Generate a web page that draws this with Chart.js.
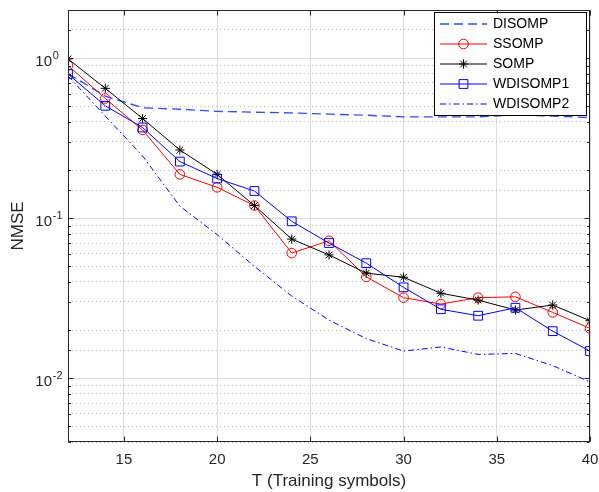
<!DOCTYPE html>
<html>
<head>
<meta charset="utf-8">
<script src="https://cdn.jsdelivr.net/npm/chart.js@4.4.1/dist/chart.umd.min.js"></script>
<style>
  html, body { margin: 0; padding: 0; background: #fff; }
  #wrap { width: 599px; height: 492px; }
</style>
</head>
<body>
<div id="wrap"><canvas id="nmseChart" width="599" height="492"></canvas></div>
<script>
// data
const trainingSymbols = [12, 14, 16, 18, 20, 22, 24, 26, 28, 30, 32, 34, 36, 38, 40];
const disomp   = [0.80, 0.58, 0.49, 0.48, 0.465, 0.46, 0.455, 0.447, 0.44, 0.43, 0.43, 0.43, 0.443, 0.435, 0.425];
const ssomp    = [0.90, 0.56, 0.356, 0.188, 0.156, 0.12, 0.0606, 0.0723, 0.043, 0.0319, 0.0291, 0.0319, 0.0323, 0.0258, 0.0205];
const somp     = [0.99, 0.648, 0.42, 0.267, 0.188, 0.12, 0.0741, 0.059, 0.0454, 0.0428, 0.034, 0.0308, 0.0267, 0.0287, 0.0229];
const wdisomp1 = [0.797, 0.504, 0.369, 0.226, 0.177, 0.148, 0.0957, 0.07, 0.0524, 0.037, 0.027, 0.0246, 0.0276, 0.0197, 0.0148];
const wdisomp2 = [0.775, 0.435, 0.245, 0.119, 0.079, 0.05, 0.0327, 0.0231, 0.0177, 0.0148, 0.0157, 0.0141, 0.0143, 0.012, 0.0095];
const seriesNames = ['DISOMP', 'SSOMP', 'SOMP', 'WDISOMP1', 'WDISOMP2'];
const xTicks = [15, 20, 25, 30, 35, 40];

const FONT = '"Liberation Sans", Arial, Helvetica, sans-serif';
const AXIS_COLOR = '#262626';

const isDecade = v => Math.abs(Math.log10(v) - Math.round(Math.log10(v))) < 1e-6;
const toPoints = arr => trainingSymbols.map((t, i) => ({ x: t, y: arr[i] }));

const styles = [
  { color: '#2f4fff', dash: [9, 5], width: 1.4, marker: null, r: 0 },
  { color: '#ff0000', dash: [], width: 1, marker: 'circle', r: 4.8 },
  { color: '#000000', dash: [], width: 1, marker: 'star', r: 4.6 },
  { color: '#0000ff', dash: [], width: 1, marker: 'rect', r: 6.2 },
  { color: '#0000ff', dash: [6, 3, 1.5, 3], width: 1, marker: null, r: 0 }
];
const seriesData = [disomp, ssomp, somp, wdisomp1, wdisomp2];

const datasets = seriesData.map((arr, i) => ({
  label: seriesNames[i],
  data: toPoints(arr),
  borderColor: styles[i].color,
  borderWidth: styles[i].width,
  borderDash: styles[i].dash,
  pointStyle: styles[i].marker || 'circle',
  pointRadius: styles[i].r,
  pointBorderColor: styles[i].color,
  pointBackgroundColor: 'rgba(0,0,0,0)',
  pointBorderWidth: 1,
  fill: false,
  tension: 0,
  order: 5 - i
}));

function drawMarker(ctx, style, x, y, r) {
  ctx.beginPath();
  if (style === 'circle') {
    ctx.arc(x, y, r, 0, Math.PI * 2);
  } else if (style === 'rect') {
    const s = r * Math.SQRT1_2;
    ctx.rect(x - s, y - s, 2 * s, 2 * s);
  } else if (style === 'star') {
    for (let k = 0; k < 4; k++) {
      const a = k * Math.PI / 4;
      ctx.moveTo(x + Math.cos(a) * r, y + Math.sin(a) * r);
      ctx.lineTo(x - Math.cos(a) * r, y - Math.sin(a) * r);
    }
  }
  ctx.stroke();
}

// box, inward ticks, y labels with exponents, legend
const matlabLook = {
  id: 'matlabLook',
  afterDatasetsDraw(chart) {
    const ctx = chart.ctx;
    const { left, right, top, bottom } = chart.chartArea;
    const xs = chart.scales.x, ys = chart.scales.y;
    const L = Math.round(left) + 0.5, R = Math.round(right) - 0.5;
    const T = Math.round(top) + 0.5, B = Math.round(bottom) - 0.5;

    ctx.save();
    ctx.strokeStyle = AXIS_COLOR;
    ctx.lineWidth = 1;
    ctx.setLineDash([]);
    ctx.strokeRect(L, T, R - L, B - T);

    ctx.beginPath();
    xs.ticks.forEach(t => {
      const px = Math.round(xs.getPixelForValue(t.value)) + 0.5;
      ctx.moveTo(px, B); ctx.lineTo(px, B - 5);
      ctx.moveTo(px, T); ctx.lineTo(px, T + 5);
    });
    ys.ticks.forEach(t => {
      const py = Math.round(ys.getPixelForValue(t.value)) + 0.5;
      const len = isDecade(t.value) ? 5 : 2.6;
      ctx.moveTo(L, py); ctx.lineTo(L + len, py);
      ctx.moveTo(R, py); ctx.lineTo(R - len, py);
    });
    ctx.stroke();

    // y tick labels 10^n
    ctx.fillStyle = AXIS_COLOR;
    ctx.textBaseline = 'middle';
    ys.ticks.filter(t => isDecade(t.value)).forEach(t => {
      const py = ys.getPixelForValue(t.value);
      const e = Math.round(Math.log10(t.value));
      ctx.font = '15px ' + FONT;
      ctx.textAlign = 'right';
      ctx.fillText('10', 52, py + 3.5);
      ctx.font = '11px ' + FONT;
      ctx.textAlign = 'left';
      ctx.fillText(String(e), 52.8, py - 2.5);
    });

    // legend
    const bx = 434.5, by = 12.5, bw = 152, bh = 103;
    ctx.fillStyle = '#ffffff';
    ctx.fillRect(bx, by, bw, bh);
    ctx.strokeStyle = '#000000';
    ctx.strokeRect(bx, by, bw, bh);
    chart.data.datasets.forEach((ds, i) => {
      const st = styles[i];
      const y = 24 + i * 20;
      ctx.strokeStyle = st.color;
      ctx.lineWidth = st.width;
      ctx.setLineDash(st.dash);
      ctx.beginPath();
      ctx.moveTo(440, y); ctx.lineTo(487, y);
      ctx.stroke();
      ctx.setLineDash([]);
      ctx.lineWidth = 1;
      if (st.marker) drawMarker(ctx, st.marker, 463.5, y, st.r);
      ctx.fillStyle = '#000000';
      ctx.font = '14px ' + FONT;
      ctx.textAlign = 'left';
      ctx.textBaseline = 'middle';
      ctx.fillText(ds.label, 493, y + 0.5);
    });
    ctx.restore();
  }
};

new Chart(document.getElementById('nmseChart'), {
  type: 'line',
  data: { datasets },
  options: {
    responsive: false,
    animation: false,
    layout: { padding: { top: 10, right: 9, left: 0, bottom: 0 } },
    plugins: { legend: { display: false }, tooltip: { enabled: false } },
    scales: {
      x: {
        type: 'linear',
        min: 12,
        max: 40,
        afterFit: s => { s.height = 50; s.paddingLeft = 0; s.paddingRight = 0; },
        afterBuildTicks: s => { s.ticks = xTicks.map(v => ({ value: v })); },
        ticks: {
          color: AXIS_COLOR,
          font: { family: FONT, size: 15 },
          padding: 9,
          maxRotation: 0
        },
        grid: { color: '#dcdcdc', lineWidth: 1, drawTicks: false },
        border: { display: false },
        title: {
          display: true,
          text: 'T (Training symbols)',
          color: AXIS_COLOR,
          font: { family: FONT, size: 17 },
          padding: { top: 0, bottom: 0 }
        }
      },
      y: {
        type: 'logarithmic',
        min: 0.004,
        max: 2,
        afterFit: s => { s.width = 68; s.paddingTop = 0; s.paddingBottom = 0; },
        ticks: { display: false, autoSkip: false },
        grid: {
          drawTicks: false,
          color: c => (c.tick && isDecade(c.tick.value)) ? '#dcdcdc' : '#c2c2c2',
          lineWidth: 1
        },
        border: {
          display: false,
          dash: c => (c.tick && !isDecade(c.tick.value)) ? [1, 3] : []
        },
        title: {
          display: true,
          text: 'NMSE',
          color: AXIS_COLOR,
          font: { family: FONT, size: 17 },
          padding: { top: 8, bottom: 0 }
        }
      }
    }
  },
  plugins: [matlabLook]
});
</script>
</body>
</html>
